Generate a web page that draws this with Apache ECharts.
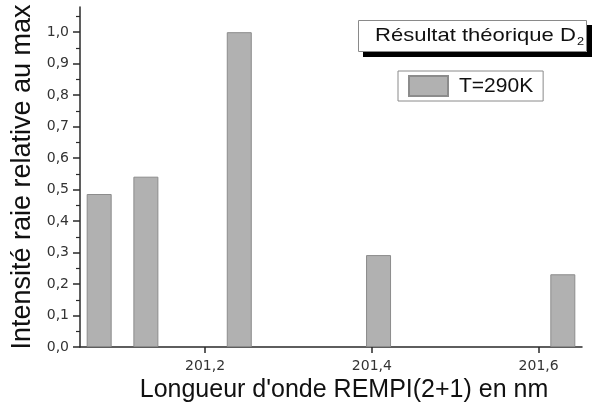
<!DOCTYPE html>
<html>
<head>
<meta charset="utf-8">
<script src="https://cdn.jsdelivr.net/npm/echarts@6/dist/echarts.min.js"></script>
<style>
  html, body { margin: 0; padding: 0; background: #fff; }
  #chart { width: 596px; height: 415px; }
</style>
</head>
<body>
<div id="chart"></div>
<script>
// Wavelengths (nm) of the computed lines and their intensity relative to the strongest one
const wavelengths = [201.073, 201.129, 201.241, 201.408, 201.629];
const intensities = [0.486, 0.541, 1.0, 0.292, 0.231];

// Tick values shown on each axis
const xTicks = [201.2, 201.4, 201.6];
const yTicks = [0, 0.1, 0.2, 0.3, 0.4, 0.5, 0.6, 0.7, 0.8, 0.9, 1.0];

const seriesName = 'T=290K';
const titleText = 'Résultat théorique D';
const titleSub = '2';

const comma = v => v.toFixed(1).replace('.', ',');

const chart = echarts.init(document.getElementById('chart'), null, { renderer: 'canvas' });

chart.setOption({
  animation: false,
  backgroundColor: '#ffffff',
  grid: { left: 80, right: 14, top: 7, bottom: 68 },
  xAxis: {
    type: 'value',
    min: 201.05,
    max: 201.652,
    name: "Longueur d'onde REMPI(2+1) en nm",
    nameLocation: 'middle',
    nameGap: 30,
    nameTextStyle: {
      fontFamily: 'Liberation Sans, Arial, sans-serif',
      fontSize: 25,
      color: '#111',
      padding: [0, 0, 0, 26]
    },
    axisLine: { show: true, lineStyle: { color: '#2a2a2a', width: 1.5 } },
    axisTick: { show: true, inside: false, length: 6, customValues: xTicks,
      lineStyle: { color: '#2a2a2a', width: 1.5 } },
    axisLabel: { customValues: xTicks, margin: 12, formatter: comma,
      fontFamily: 'DejaVu Sans, sans-serif', fontSize: 14, color: '#333' },
    splitLine: { show: false }
  },
  yAxis: {
    type: 'value',
    min: 0,
    max: 1.08,
    interval: 0.1,
    name: 'Intensité raie relative au max',
    nameLocation: 'middle',
    nameGap: 41,
    nameTextStyle: {
      fontFamily: 'Liberation Sans, Arial, sans-serif',
      fontSize: 27,
      color: '#111'
    },
    axisLine: { show: true, lineStyle: { color: '#2a2a2a', width: 1.5 } },
    axisTick: { show: true, inside: false, length: 7, customValues: yTicks,
      lineStyle: { color: '#2a2a2a', width: 1.5 } },
    minorTick: { show: true, splitNumber: 2, length: 4,
      lineStyle: { color: '#2a2a2a', width: 1.2 } },
    axisLabel: { customValues: yTicks, margin: 11, formatter: comma,
      fontFamily: 'DejaVu Sans, sans-serif', fontSize: 14, color: '#333' },
    splitLine: { show: false }
  },
  legend: {
    left: 398,
    top: 71,
    orient: 'vertical',
    padding: [4, 10, 4, 10],
    itemWidth: 39,
    itemHeight: 20,
    borderColor: '#8a8a8a',
    borderWidth: 1,
    backgroundColor: '#fff',
    data: [{ name: seriesName, icon: 'rect' }],
    textStyle: {
      fontFamily: 'Liberation Sans, Arial, sans-serif',
      fontSize: 21,
      color: '#111',
      padding: [0, 0, 0, 6]
    }
  },
  graphic: {
    elements: [
      // empty placeholder group
      { type: 'group', id: 'titleGroup', children: [] },
      // thin grey outline of the title panel
      { type: 'rect', id: 'titleFrame', z: 101,
        shape: { x: 358.5, y: 20.5, width: 228, height: 31 },
        style: { fill: null, stroke: '#8a8a8a', lineWidth: 1 } },
      // hard drop shadow of the title panel: dark bands along the bottom and right
      { type: 'rect', id: 'shadowBottom', z: 101,
        shape: { x: 363, y: 52, width: 229, height: 5 },
        style: { fill: '#000000', stroke: null } },
      { type: 'rect', id: 'shadowRight', z: 101,
        shape: { x: 587, y: 25, width: 5, height: 32 },
        style: { fill: '#000000', stroke: null } },
      { type: 'text', id: 'titleText', x: 375, y: 36, z: 102, scaleX: 1.16,
        style: {
          text: '{m|' + titleText + '}{s|' + titleSub + '}',
          verticalAlign: 'middle',
          rich: {
            m: { fontFamily: 'Liberation Sans, Arial, sans-serif', fontSize: 19, fill: '#111' },
            s: { fontFamily: 'Liberation Sans, Arial, sans-serif', fontSize: 11, fill: '#111',
                 padding: [12, 0, 0, 1] }
          }
        } }
    ]
  },
  series: [
    {
      name: seriesName,
      type: 'bar',
      barWidth: 25,
      itemStyle: { color: '#b1b1b1', borderColor: '#8c8c8c', borderWidth: 1 },
      data: wavelengths.map((w, i) => [w, intensities[i]])
    }
  ]
});
</script>
</body>
</html>
